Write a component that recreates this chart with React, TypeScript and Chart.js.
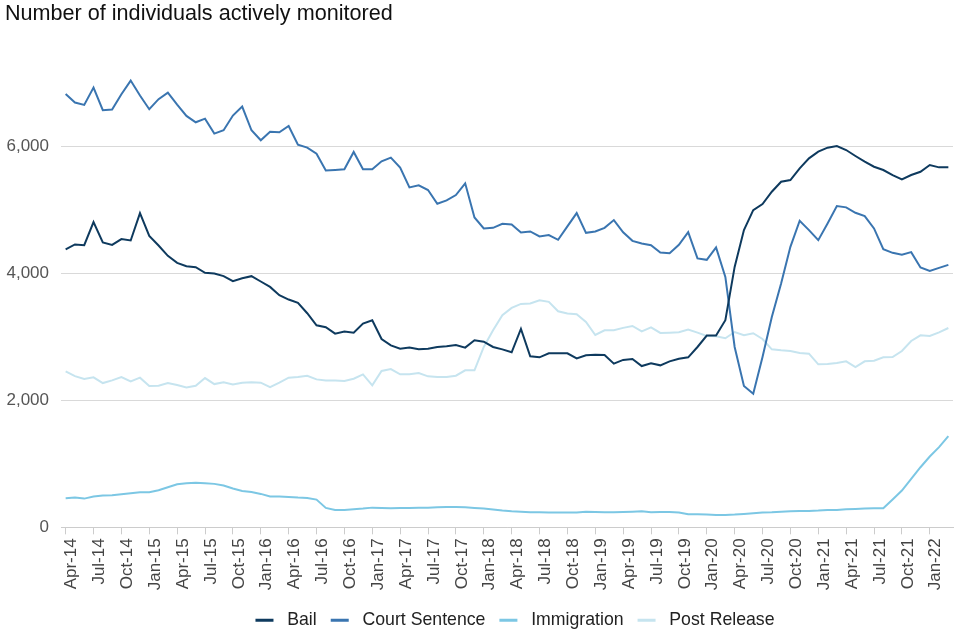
import { useEffect, useRef } from "react";
import { Chart, registerables } from "chart.js";

Chart.register(...registerables);

const months = [
  "Apr-14", "May-14", "Jun-14", "Jul-14", "Aug-14", "Sep-14", "Oct-14", "Nov-14", "Dec-14",
  "Jan-15", "Feb-15", "Mar-15", "Apr-15", "May-15", "Jun-15", "Jul-15", "Aug-15", "Sep-15", "Oct-15", "Nov-15", "Dec-15",
  "Jan-16", "Feb-16", "Mar-16", "Apr-16", "May-16", "Jun-16", "Jul-16", "Aug-16", "Sep-16", "Oct-16", "Nov-16", "Dec-16",
  "Jan-17", "Feb-17", "Mar-17", "Apr-17", "May-17", "Jun-17", "Jul-17", "Aug-17", "Sep-17", "Oct-17", "Nov-17", "Dec-17",
  "Jan-18", "Feb-18", "Mar-18", "Apr-18", "May-18", "Jun-18", "Jul-18", "Aug-18", "Sep-18", "Oct-18", "Nov-18", "Dec-18",
  "Jan-19", "Feb-19", "Mar-19", "Apr-19", "May-19", "Jun-19", "Jul-19", "Aug-19", "Sep-19", "Oct-19", "Nov-19", "Dec-19",
  "Jan-20", "Feb-20", "Mar-20", "Apr-20", "May-20", "Jun-20", "Jul-20", "Aug-20", "Sep-20", "Oct-20", "Nov-20", "Dec-20",
  "Jan-21", "Feb-21", "Mar-21", "Apr-21", "May-21", "Jun-21", "Jul-21", "Aug-21", "Sep-21", "Oct-21", "Nov-21", "Dec-21",
  "Jan-22", "Feb-22", "Mar-22",
];

const bail = [
  4375, 4453, 4442, 4805, 4485, 4447, 4537, 4516, 4947,
  4589, 4437, 4274, 4163, 4111, 4096, 4006, 3996, 3954, 3875, 3922, 3954,
  3870, 3785, 3654, 3586, 3533, 3370, 3181, 3150, 3049, 3081, 3065, 3207,
  3260, 2965, 2865, 2813, 2829, 2802, 2813, 2839, 2849, 2870, 2829, 2944,
  2923, 2839, 2802, 2755, 3123, 2692, 2676, 2739, 2739, 2739, 2660, 2708,
  2718, 2713, 2576, 2635, 2650, 2539, 2582, 2550, 2613, 2655, 2676, 2839,
  3018, 3018, 3260, 4100, 4679, 4994, 5089, 5283, 5441, 5467, 5652, 5809,
  5914, 5977, 6003, 5940, 5846, 5756, 5677, 5625, 5546, 5478, 5546, 5598,
  5704, 5667, 5667,
];

const courtSentence = [
  6820, 6687, 6650, 6923, 6566, 6576, 6819, 7033, 6797,
  6582, 6740, 6844, 6655, 6477, 6377, 6434, 6198, 6251, 6482, 6623, 6251,
  6093, 6229, 6219, 6319, 6024, 5977, 5882, 5617, 5625, 5636, 5909, 5636,
  5636, 5762, 5820, 5662, 5352, 5384, 5310, 5094, 5147, 5231, 5415, 4879,
  4706, 4715, 4778, 4769, 4643, 4658, 4580, 4600, 4526, 4737, 4947, 4636,
  4658, 4715, 4837, 4644, 4510, 4469, 4442, 4327, 4316, 4447, 4647, 4233,
  4211, 4406, 3943, 2839, 2224, 2104, 2681, 3312, 3838, 4416, 4826, 4679,
  4521, 4784, 5057, 5037, 4952, 4900, 4706, 4379, 4321, 4290, 4332, 4091,
  4037, 4085, 4132,
];

const immigration = [
  457, 468, 452, 484, 500, 505, 520, 536, 552,
  552, 583, 631, 678, 694, 700, 694, 684, 657, 610, 573, 557,
  526, 484, 484, 479, 468, 463, 437, 305, 274, 274, 284, 295,
  310, 305, 300, 305, 305, 310, 310, 316, 321, 321, 316, 305,
  295, 279, 263, 252, 247, 237, 237, 232, 232, 232, 232, 247,
  242, 237, 237, 242, 247, 252, 237, 242, 242, 232, 205, 205,
  200, 195, 195, 200, 210, 221, 232, 237, 247, 252, 258, 258,
  263, 274, 274, 284, 290, 295, 300, 300, 437, 579, 763, 946,
  1115, 1262, 1435,
];

const postRelease = [
  2455, 2381, 2334, 2361, 2271, 2313, 2366, 2298, 2356,
  2224, 2229, 2271, 2240, 2203, 2229, 2350, 2255, 2282, 2250, 2277, 2282,
  2277, 2208, 2277, 2356, 2366, 2387, 2329, 2313, 2313, 2303, 2340, 2408,
  2235, 2461, 2492, 2408, 2408, 2429, 2377, 2366, 2366, 2387, 2471, 2471,
  2839, 3102, 3339, 3454, 3517, 3523, 3575, 3549, 3402, 3365, 3354, 3233,
  3028, 3102, 3102, 3140, 3170, 3086, 3149, 3060, 3065, 3070, 3112, 3065,
  3012, 3007, 2976, 3075, 3023, 3055, 2965, 2802, 2787, 2776, 2744, 2734,
  2566, 2571, 2586, 2613, 2523, 2613, 2624, 2676, 2681, 2776, 2933, 3023,
  3012, 3070, 3138,
];

const seriesNames = ["Bail", "Court Sentence", "Immigration", "Post Release"];
const seriesColors = ["#0E3A5E", "#3A75B0", "#7CC7E4", "#C6E4EF"];
const yTickValues = [0, 2000, 4000, 6000];

const legendShift = {
  id: "legendShift",
  afterLayout(chart: any) {
    const l = chart.legend;
    if (l) {
      l.left += 8;
      l.right += 8;
    }
  },
};

export default function App() {
  const ref = useRef<HTMLCanvasElement>(null);

  useEffect(() => {
    if (!ref.current) return;
    Chart.defaults.font.family = "'Liberation Sans', Arial, sans-serif";
    const allSeries = [bail, courtSentence, immigration, postRelease];
    const chart = new Chart(ref.current, {
      type: "line",
      data: {
        labels: months,
        datasets: allSeries.map((d, i) => ({
          label: seriesNames[i],
          data: d,
          borderColor: seriesColors[i],
          backgroundColor: seriesColors[i],
          borderWidth: 2,
          pointRadius: 0,
          tension: 0,
          fill: false,
        })),
      },
      plugins: [legendShift],
      options: {
        animation: false,
        responsive: true,
        maintainAspectRatio: false,
        layout: { padding: { left: 5, right: 7, top: 0, bottom: 1 } },
        plugins: {
          title: {
            display: true,
            text: "Number of individuals actively monitored",
            align: "start",
            color: "#111111",
            font: { size: 21.6, weight: "normal" },
            padding: { top: 1, bottom: 24 },
          },
          legend: {
            position: "bottom",
            fullSize: false,
            labels: {
              boxWidth: 18,
              boxHeight: 3,
              padding: 14,
              color: "#222222",
              font: { size: 17.7 },
              generateLabels: (c: any) =>
                Chart.defaults.plugins.legend.labels
                  .generateLabels(c)
                  .map((l: any) => ({ ...l, text: " " + l.text, lineWidth: 0 })),
            },
          },
          tooltip: { enabled: false },
        },
        scales: {
          x: {
            type: "category",
            offset: true,
            grid: {
              display: true,
              drawOnChartArea: false,
              drawTicks: true,
              tickLength: 7,
              color: "#cccccc",
              offset: false,
            },
            border: { display: true, color: "#cccccc" },
            afterFit: (s: any) => {
              s.paddingLeft = 0;
              s.paddingRight = 0;
              s.height += 3;
            },
            ticks: {
              autoSkip: false,
              maxRotation: 90,
              minRotation: 90,
              padding: 4,
              labelOffset: 6,
              color: "#444444",
              font: { size: 17 },
              callback: function (this: any, _v: any, i: number) {
                return i % 3 === 0 ? months[i] : null;
              },
            },
          },
          y: {
            min: 0,
            max: 7500,
            grid: { color: "#d9d9d9", lineWidth: 1, drawTicks: false },
            border: { display: false },
            afterBuildTicks: (scale: any) => {
              scale.ticks = yTickValues.map((v) => ({ value: v }));
            },
            afterFit: (s: any) => {
              s.width = 56;
              s.paddingTop = 0;
              s.paddingBottom = 0;
            },
            ticks: {
              padding: 12,
              color: "#555555",
              font: { size: 17 },
              callback: (v: any) => Number(v).toLocaleString("en-US"),
            },
          },
        },
      },
    });
    return () => chart.destroy();
  }, []);

  return (
    <div
      style={{
        position: "fixed",
        left: 0,
        top: 0,
        width: 960,
        height: 640,
        background: "#ffffff",
      }}
    >
      <canvas ref={ref} />
    </div>
  );
}
